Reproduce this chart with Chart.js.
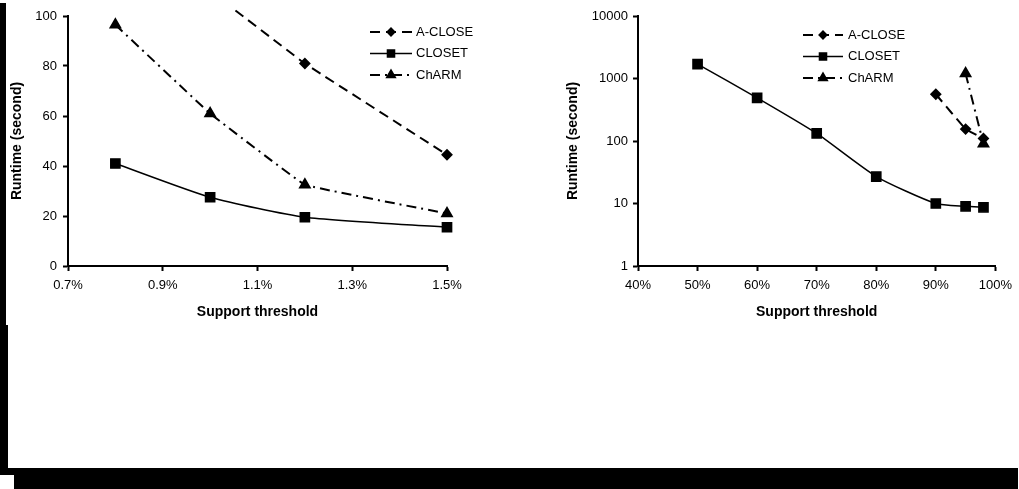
<!DOCTYPE html>
<html>
<head>
<meta charset="utf-8">
<script src="https://cdn.jsdelivr.net/npm/chart.js@4.4.1/dist/chart.umd.min.js"></script>
<style>
  body { margin: 0; background: #fff; width: 1019px; height: 489px; overflow: hidden; position: relative; }
  canvas { position: absolute; top: 0; }
  .edge { position: absolute; background: #000; z-index: 2; }
</style>
</head>
<body>
<canvas id="leftChart" width="520" height="340" style="left:0"></canvas>
<canvas id="rightChart" width="499" height="340" style="left:520px"></canvas>
<div class="edge" style="left:0;top:3px;width:6px;height:322px"></div>
<div class="edge" style="left:0;top:325px;width:8px;height:150px"></div>
<div class="edge" style="left:0;top:468px;width:1018px;height:7px"></div>
<div class="edge" style="left:14px;top:475px;width:1004px;height:14px"></div>
<script>
// left panel: low support thresholds (%)
const leftXTicks = [0.7, 0.9, 1.1, 1.3, 1.5];
const leftYTicks = [0, 20, 40, 60, 80, 100];
const leftACloseX = [1.0, 1.2, 1.5];
const leftACloseY = [110, 81, 44.5];
const leftClosetX = [0.8, 1.0, 1.2, 1.5];
const leftClosetY = [41, 27.5, 19.5, 15.5];
const leftCharmX = [0.8, 1.0, 1.2, 1.5];
const leftCharmY = [96.5, 61, 32.5, 21];

// right panel: high support thresholds (%), log runtime
const rightXTicks = [40, 50, 60, 70, 80, 90, 100];
const rightYTicks = [1, 10, 100, 1000, 10000];
const rightACloseX = [90, 95, 98];
const rightACloseY = [560, 155, 110];
const rightClosetX = [50, 60, 70, 80, 90, 95, 98];
const rightClosetY = [1700, 490, 132, 27, 10, 9, 8.7];
const rightCharmX = [95, 98];
const rightCharmY = [1200, 90];

Chart.defaults.font.family = "'Liberation Sans', Arial, sans-serif";
Chart.defaults.font.size = 13;
Chart.defaults.color = '#000';

const pts = (xs, ys) => xs.map((x, i) => ({x: x, y: ys[i]}));

// legend drawn as line sample + marker + label, like the original figure
const lineLegend = {
  id: 'lineLegend',
  afterDraw(chart, args, opts) {
    const ctx = chart.ctx;
    ctx.save();
    ctx.font = "13px 'Liberation Sans', Arial, sans-serif";
    ctx.textBaseline = 'middle';
    ctx.fillStyle = '#000';
    ctx.strokeStyle = '#000';
    chart.data.datasets.forEach((ds, i) => {
      const y = opts.y + i * opts.rowGap;
      ctx.lineWidth = ds.borderWidth;
      ctx.setLineDash(ds.borderDash || []);
      ctx.beginPath();
      ctx.moveTo(opts.x, y);
      ctx.lineTo(opts.x + opts.width, y);
      ctx.stroke();
      ctx.setLineDash([]);
      Chart.helpers.drawPoint(ctx, {pointStyle: ds.pointStyle, rotation: 0, radius: ds.legendRadius, borderWidth: 1},
        opts.x + opts.width / 2, y);
      ctx.fillText(ds.label, opts.x + opts.width + opts.gap, y);
    });
    ctx.restore();
  }
};

function makeDatasets(aClose, closet, charm, tension) {
  return [
    {label: 'A-CLOSE', data: aClose, borderColor: '#000', backgroundColor: '#000', borderWidth: 2,
     borderDash: [10, 6], pointStyle: 'rectRot', pointRadius: 4.5, legendRadius: 3.5, tension: 0.05,
     clip: {top: 7, left: 12, right: 12, bottom: 12}},
    {label: 'CLOSET', data: closet, borderColor: '#000', backgroundColor: '#000', borderWidth: 1.5,
     pointStyle: 'rect', pointRadius: 6.5, legendRadius: 5, tension: tension, clip: false},
    {label: 'ChARM', data: charm, borderColor: '#000', backgroundColor: '#000', borderWidth: 2,
     borderDash: [10, 5, 2, 5], pointStyle: 'triangle', pointRadius: 5.5, legendRadius: 4.5, tension: 0.05,
     clip: false}
  ];
}

function axisGrid() {
  return {display: true, drawOnChartArea: false, drawTicks: true, tickLength: 5, tickWidth: 2, tickColor: '#000'};
}

function makeOptions(cfg) {
  return {
    responsive: false,
    animation: false,
    layout: {padding: {top: 16, right: cfg.padRight, bottom: 0, left: 0}},
    plugins: {
      legend: {display: false},
      tooltip: {enabled: false},
      lineLegend: cfg.legend
    },
    scales: {
      x: {
        type: 'linear', min: cfg.xTicks[0], max: cfg.xTicks[cfg.xTicks.length - 1],
        grid: axisGrid(),
        border: {color: '#000', width: 2},
        afterBuildTicks: s => { s.ticks = cfg.xTicks.map(v => ({value: v})); },
        afterFit: s => { s.height = 74; },
        ticks: {padding: 7, maxRotation: 0, callback: cfg.xFormat},
        title: {display: true, text: 'Support threshold', font: {size: 14, weight: 'bold'}, padding: {top: 0, bottom: 19}}
      },
      y: {
        type: cfg.yType, min: cfg.yTicks[0], max: cfg.yTicks[cfg.yTicks.length - 1],
        grid: axisGrid(),
        border: {color: '#000', width: 2},
        afterBuildTicks: s => { s.ticks = cfg.yTicks.map(v => ({value: v})); },
        afterFit: s => { s.width = cfg.yWidth; },
        ticks: {padding: cfg.yPad, callback: v => String(v)},
        title: {display: true, text: 'Runtime (second)', font: {size: 14, weight: 'bold'}, padding: {top: cfg.titlePad, bottom: 0}}
      }
    }
  };
}

new Chart(document.getElementById('leftChart'), {
  type: 'line',
  data: {datasets: makeDatasets(pts(leftACloseX, leftACloseY), pts(leftClosetX, leftClosetY), pts(leftCharmX, leftCharmY), 0.2)},
  options: makeOptions({
    xTicks: leftXTicks, yTicks: leftYTicks, yType: 'linear', yWidth: 68, yPad: 6, titlePad: 9, padRight: 73,
    xFormat: v => v.toFixed(1) + '%',
    legend: {x: 370, y: 32, rowGap: 21.5, width: 42, gap: 4}
  }),
  plugins: [lineLegend]
});

new Chart(document.getElementById('rightChart'), {
  type: 'line',
  data: {datasets: makeDatasets(pts(rightACloseX, rightACloseY), pts(rightClosetX, rightClosetY), pts(rightCharmX, rightCharmY), 0.2)},
  options: makeOptions({
    xTicks: rightXTicks, yTicks: rightYTicks, yType: 'logarithmic', yWidth: 118, yPad: 5, titlePad: 45, padRight: 17,
    xFormat: v => v + '%',
    legend: {x: 283, y: 35, rowGap: 21.5, width: 40, gap: 5}
  }),
  plugins: [lineLegend]
});
</script>
</body>
</html>
